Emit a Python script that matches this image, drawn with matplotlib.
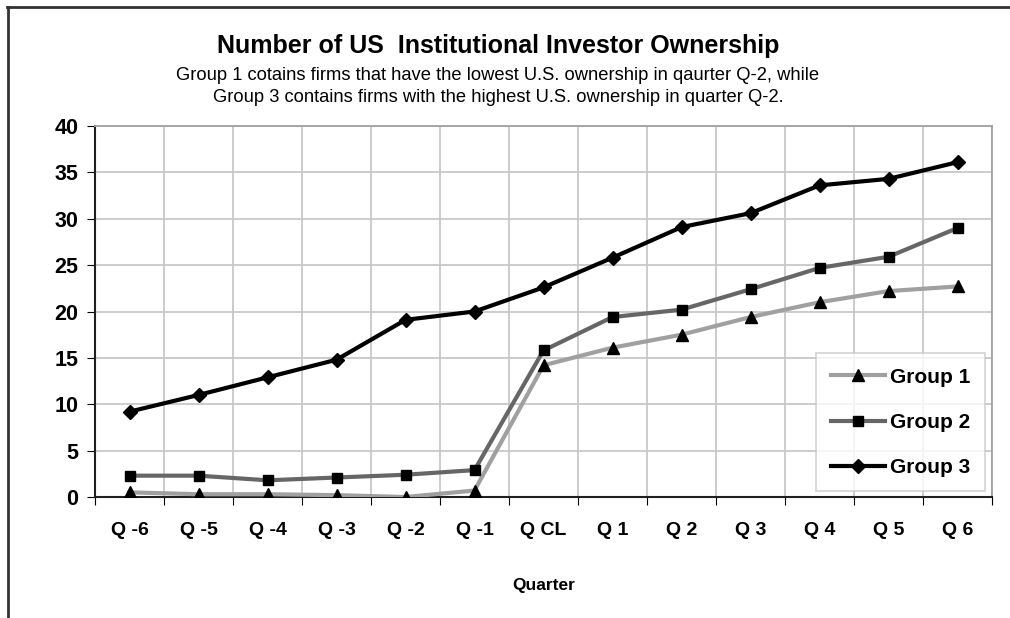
import matplotlib.pyplot as plt
from matplotlib.lines import Line2D

plt.rcParams['font.family'] = ['Liberation Sans', 'DejaVu Sans']

quarters = ['Q -6', 'Q -5', 'Q -4', 'Q -3', 'Q -2', 'Q -1', 'Q CL',
            'Q 1', 'Q 2', 'Q 3', 'Q 4', 'Q 5', 'Q 6']
group1 = [0.5, 0.3, 0.3, 0.2, 0.0, 0.7, 14.2, 16.1, 17.5, 19.4, 21.0, 22.2, 22.7]
group2 = [2.3, 2.3, 1.8, 2.1, 2.4, 2.9, 15.8, 19.4, 20.2, 22.4, 24.7, 25.9, 29.0]
group3 = [9.2, 11.0, 12.9, 14.8, 19.1, 20.0, 22.6, 25.8, 29.1, 30.6, 33.6, 34.3, 36.1]

fig = plt.figure(figsize=(10.1, 6.18), dpi=100)
ax = fig.add_axes([95 / 1010, 1 - 497 / 618, 897 / 1010, 371 / 618])

x = list(range(len(quarters)))
ax.plot(x, group1, color='#a0a0a0', lw=3, marker='^', ms=8.5,
        mfc='black', mec='black', label='Group 1', zorder=3)
ax.plot(x, group2, color='#666666', lw=3, marker='s', ms=7,
        mfc='black', mec='black', label='Group 2', zorder=4)
ax.plot(x, group3, color='black', lw=3, marker='D', ms=7,
        mfc='black', mec='black', label='Group 3', zorder=5)

ax.set_xlim(-0.5, len(quarters) - 0.5)
ax.set_ylim(0, 40)
ax.set_yticks(range(0, 41, 5))
ax.set_xticks([i - 0.5 for i in range(len(quarters) + 1)])
ax.set_xticklabels([])
ax.set_xticks(x, minor=True)
ax.set_xticklabels(quarters, minor=True, fontweight='bold', fontsize=14)
ax.tick_params(axis='x', which='minor', length=0, pad=18)
ax.tick_params(axis='x', which='major', length=6, direction='out', color='black')
ax.tick_params(axis='y', length=6, direction='out', labelsize=15.5, pad=6)
for t in ax.get_yticklabels():
    t.set_fontweight('bold')

ax.grid(True, which='major', color='#c8c8c8', lw=1.3)
ax.set_axisbelow(True)
for s in ['top', 'right']:
    ax.spines[s].set_color('#a0a0a0')
    ax.spines[s].set_linewidth(1.3)
for s in ['bottom', 'left']:
    ax.spines[s].set_color('#202020')
    ax.spines[s].set_linewidth(1.5)

ax.set_xlabel('Quarter', fontweight='bold', fontsize=12.5, labelpad=28)

leg = ax.legend(loc='lower right', bbox_to_anchor=(0.9925, 0.015),
                prop={'weight': 'bold', 'size': 15}, frameon=True, fancybox=False,
                handlelength=2.6, handletextpad=0.25, labelspacing=1.25,
                borderpad=0.7, borderaxespad=0.0)
leg.get_frame().set_edgecolor('#c8c8c8')
leg.get_frame().set_linewidth(1.2)

fig.text(0.493, 1 - 46 / 618, 'Number of US  Institutional Investor Ownership',
         ha='center', va='center', fontsize=18, fontweight='bold')
fig.text(0.493, 1 - 75 / 618,
         'Group 1 cotains firms that have the lowest U.S. ownership in qaurter Q-2, while',
         ha='center', va='center', fontsize=13.2)
fig.text(0.493, 1 - 98 / 618,
         'Group 3 contains firms with the highest U.S. ownership in quarter Q-2.',
         ha='center', va='center', fontsize=13.2)

# outer chart border (top and left only visible)
fig.add_artist(Line2D([7 / 1010, 1.0], [1 - 7 / 618, 1 - 7 / 618],
                      transform=fig.transFigure, color='#333333', lw=2))
fig.add_artist(Line2D([7.5 / 1010, 7.5 / 1010], [0, 1 - 7 / 618],
                      transform=fig.transFigure, color='#333333', lw=2))

fig.savefig('out.png', dpi=100)
